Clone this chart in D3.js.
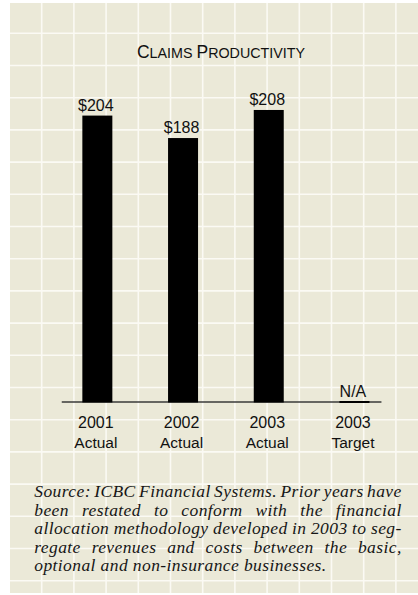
<!DOCTYPE html>
<html>
<head>
<meta charset="utf-8">
<script src="https://cdn.jsdelivr.net/npm/d3@7"></script>
<style>
  html, body { margin: 0; padding: 0; background: #fff; }
  svg { display: block; }
</style>
</head>
<body>
<script>
// Claims productivity data
const years = ["2001", "2002", "2003", "2003"];
const kinds = ["Actual", "Actual", "Actual", "Target"];
const values = [204, 188, 208, null];
const valueLabels = ["$204", "$188", "$208", "N/A"];

const titleParts = [["C", true], ["LAIMS ", false], ["P", true], ["RODUCTIVITY", false]];

const noteLines = [
  "Source: ICBC Financial Systems. Prior years have",
  "been restated to conform with the financial",
  "allocation methodology developed in 2003 to seg-",
  "regate revenues and costs between the basic,",
  "optional and non-insurance businesses."
];

const W = 418, H = 595;
const svg = d3.select("body").append("svg").attr("width", W).attr("height", H);

// Beige panel with a white grid
const panel = { x: 10, y: 3, w: W - 10, h: 590 };
svg.append("rect")
  .attr("x", panel.x).attr("y", panel.y)
  .attr("width", panel.w).attr("height", panel.h)
  .attr("fill", "#ebe9d8");

const gridStep = 32.2;
const gridG = svg.append("g").attr("stroke", "#fbfaf4").attr("stroke-width", 1.6);
d3.range(41.7, panel.x + panel.w, gridStep).forEach(gx => {
  gridG.append("line").attr("x1", gx).attr("x2", gx)
    .attr("y1", panel.y).attr("y2", panel.y + panel.h);
});
d3.range(33.3, panel.y + panel.h, gridStep).forEach(gy => {
  gridG.append("line").attr("y1", gy).attr("y2", gy)
    .attr("x1", panel.x).attr("x2", panel.x + panel.w);
});

// Title in small caps
const title = svg.append("text")
  .attr("x", 221).attr("y", 58.3)
  .attr("text-anchor", "middle")
  .attr("font-family", "Liberation Sans, Arial, sans-serif")
  .attr("fill", "#111");
titleParts.forEach(([t, big]) => {
  title.append("tspan").attr("font-size", big ? 17.5 : 14.3).text(t);
});

// Scales
const x = d3.scaleBand()
  .domain(d3.range(values.length))
  .range([54.5, 397.3])
  .paddingInner(0.65)
  .paddingOuter(0.325);

const y = d3.scaleLinear().domain([0, 250]).range([402, 51]);

// Baseline
svg.append("line")
  .attr("x1", x(0) - 20.6).attr("x2", x(values.length - 1) + x.bandwidth() + 12)
  .attr("y1", y(0)).attr("y2", y(0))
  .attr("stroke", "#3a3a3a").attr("stroke-width", 1.3);

// Bars (a missing value sits flat on the baseline)
svg.append("g").selectAll("rect")
  .data(values)
  .join("rect")
  .attr("x", (d, i) => x(i))
  .attr("width", x.bandwidth())
  .attr("y", d => y(d == null ? 0 : d) - (d == null ? 1 : 0))
  .attr("height", d => y(0) - y(d == null ? 0 : d) + (d == null ? 2 : 0.5))
  .attr("fill", "#000");

// Value labels
svg.append("g").selectAll("text")
  .data(values)
  .join("text")
  .attr("x", (d, i) => x(i) + x.bandwidth() / 2 - 1.5)
  .attr("y", d => y(d == null ? 0 : d) - 5)
  .attr("text-anchor", "middle")
  .attr("font-family", "Liberation Sans, Arial, sans-serif")
  .attr("font-size", 16)
  .attr("fill", "#111")
  .text((d, i) => valueLabels[i]);

// Category labels
const cat = svg.append("g")
  .attr("font-family", "Liberation Sans, Arial, sans-serif")
  .attr("fill", "#111")
  .attr("text-anchor", "middle");
years.forEach((yr, i) => {
  const cx = x(i) + x.bandwidth() / 2 - 1.5;
  cat.append("text").attr("x", cx).attr("y", y(0) + 25.7).attr("font-size", 16).text(yr);
  cat.append("text").attr("x", cx).attr("y", y(0) + 45.7).attr("font-size", 15.5).text(kinds[i]);
});

// Footnote, justified except the last line
const noteLeft = 34.3, noteRight = 401.7, noteTop = 497.3, noteLead = 18.4;
const note = svg.append("g")
  .attr("font-family", "Liberation Serif, 'Times New Roman', serif")
  .attr("font-style", "italic")
  .attr("font-size", 17.5)
  .attr("letter-spacing", 0.4)
  .attr("fill", "#161616");
noteLines.forEach((line, li) => {
  const ly = noteTop + li * noteLead;
  const last = li === noteLines.length - 1;
  if (last) {
    note.append("text").attr("x", noteLeft).attr("y", ly).text(line);
    return;
  }
  const words = line.split(" ");
  const nodes = words.map(w => note.append("text").attr("y", ly).text(w));
  const widths = nodes.map(n => n.node().getComputedTextLength());
  const total = d3.sum(widths);
  const gap = (noteRight - noteLeft - total) / (words.length - 1);
  let cx = noteLeft;
  nodes.forEach((n, k) => {
    n.attr("x", cx);
    cx += widths[k] + gap;
  });
});
</script>
</body>
</html>
